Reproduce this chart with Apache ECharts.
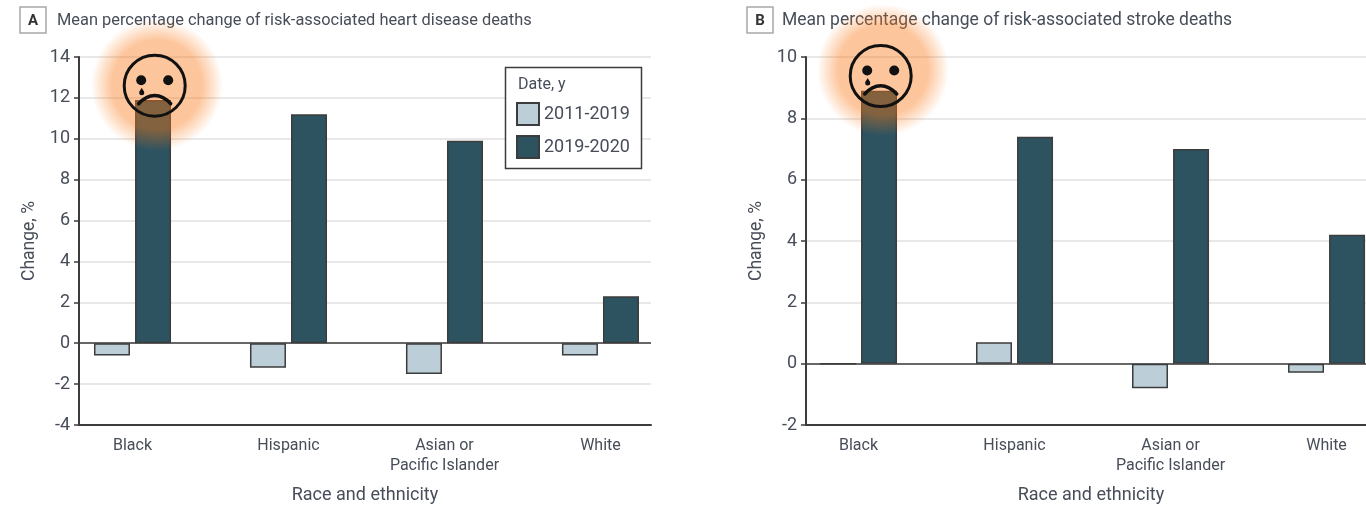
<!DOCTYPE html>
<html>
<head>
<meta charset="utf-8">
<style>
  html, body { margin: 0; padding: 0; background: #fff; }
  #chart { width: 1366px; height: 506px; }
</style>
</head>
<body>
<div id="chart"></div>
<script src="https://cdn.jsdelivr.net/npm/echarts@6/dist/echarts.min.js"></script>
<script>
const categories = ['Black', 'Hispanic', 'Asian or\nPacific Islander', 'White'];
const seriesNames = ['2011-2019', '2019-2020'];
const heartEarly = [-0.6, -1.2, -1.5, -0.6];
const heartLate = [11.9, 11.2, 9.9, 2.3];
const strokeEarly = [0, 0.7, -0.8, -0.3];
const strokeLate = [8.9, 7.4, 7.0, 4.2];
const titleA = 'Mean percentage change of risk-associated heart disease deaths';
const titleB = 'Mean percentage change of risk-associated stroke deaths';

const FONT = 'Roboto, sans-serif';
const TEXT = '#474d59';
const LINE = '#3c3c3c';
const LIGHT = '#bccfd8';
const DARK = '#2d5361';
const catIndex = categories.map((c, i) => i);

const chart = echarts.init(document.getElementById('chart'));

function xAxisFor(gridIndex, min, max) {
  return {
    type: 'value', gridIndex, min, max,
    name: 'Race and ethnicity', nameLocation: 'middle', nameGap: 61,
    nameTextStyle: { color: TEXT, fontFamily: FONT, fontSize: 18 },
    axisLine: { onZero: false, lineStyle: { color: LINE, width: 2 } },
    axisTick: { show: false },
    splitLine: { show: false },
    axisLabel: {
      customValues: catIndex,
      formatter: v => categories[v],
      color: TEXT, fontFamily: FONT, fontSize: 16, lineHeight: 20, margin: 11
    }
  };
}

function yAxisFor(gridIndex, min, max) {
  return {
    type: 'value', gridIndex, min, max, interval: 2,
    name: 'Change, %', nameLocation: 'middle', nameGap: 40, nameRotate: 90,
    nameTextStyle: { color: TEXT, fontFamily: FONT, fontSize: 17.5 },
    axisLine: { show: true, onZero: false, lineStyle: { color: LINE, width: 2 } },
    axisTick: { show: true, length: 5, lineStyle: { color: LINE, width: 1.5 } },
    splitLine: { show: true, lineStyle: { color: '#e8e8e8', width: 2 } },
    axisLabel: { color: TEXT, fontFamily: FONT, fontSize: 18, margin: 9 }
  };
}

function barSeries(name, values, color, axisIndex, zeroLine) {
  const s = {
    type: 'bar', name, xAxisIndex: axisIndex, yAxisIndex: axisIndex,
    data: values.map((v, i) => [i, v]),
    barWidth: 36, barGap: '14%',
    itemStyle: { color, borderColor: LINE, borderWidth: 1.5 },
    animation: false
  };
  if (zeroLine) {
    s.markLine = {
      silent: true, symbol: 'none', label: { show: false }, animation: false,
      lineStyle: { color: LINE, width: 1.5, type: 'solid' },
      data: [{ yAxis: 0 }]
    };
  }
  return s;
}

// orange glow and crying face drawn over the first bar of each panel
function sadFace(cx, cy, gx, gy) {
  const ink = { stroke: '#111', lineWidth: 3, fill: 'none' };
  return [
    {
      type: 'circle', z: 100, silent: true,
      shape: { cx: gx, cy: gy, r: 66 },
      style: {
        fill: {
          type: 'radial', x: 0.5, y: 0.5, r: 0.5,
          colorStops: [
            { offset: 0, color: 'rgba(250,118,18,0.42)' },
            { offset: 0.68, color: 'rgba(250,118,18,0.42)' },
            { offset: 0.88, color: 'rgba(250,118,18,0.16)' },
            { offset: 1, color: 'rgba(250,118,18,0)' }
          ]
        }
      }
    },
    { type: 'circle', z: 101, silent: true, shape: { cx, cy, r: 30.5 }, style: ink },
    { type: 'circle', z: 101, silent: true, shape: { cx: cx - 13.5, cy: cy - 5.5, r: 5 }, style: { fill: '#111' } },
    { type: 'circle', z: 101, silent: true, shape: { cx: cx + 13.5, cy: cy - 5.5, r: 5 }, style: { fill: '#111' } },
    { type: 'circle', z: 101, silent: true, shape: { cx: cx - 13, cy: cy + 7, r: 2.5 }, style: { fill: '#111' } },
    { type: 'polygon', z: 101, silent: true, shape: { points: [[cx - 15.3, cy + 6], [cx - 10.7, cy + 6], [cx - 13, cy + 2]] }, style: { fill: '#111' } },
    {
      type: 'bezierCurve', z: 101, silent: true,
      shape: { x1: cx - 16, y1: cy + 18, cpx1: cx - 6, cpy1: cy + 7, cpx2: cx + 6, cpy2: cy + 7, x2: cx + 16, y2: cy + 18 },
      style: Object.assign({}, ink, { lineCap: 'round', lineWidth: 3.5 })
    }
  ];
}

function panelHead(boxX, textX, letter, text, size) {
  return [
    { type: 'rect', silent: true, shape: { x: boxX, y: 7, width: 26, height: 26 }, style: { fill: '#fff', stroke: '#a8a8a8', lineWidth: 1.5 } },
    { type: 'text', silent: true, x: boxX + 13, y: 21, style: { text: letter, fill: '#333', font: 'bold 15px Roboto', align: 'center', verticalAlign: 'middle' } },
    { type: 'text', silent: true, x: textX, y: 21, style: { text, fill: TEXT, font: size + 'px Roboto', align: 'left', verticalAlign: 'middle' } }
  ];
}

chart.setOption({
  animation: false,
  grid: [
    { left: 79, top: 57, width: 572, height: 368, outerBoundsMode: 'none' },
    { left: 806, top: 57, width: 570, height: 368, outerBoundsMode: 'none' }
  ],
  xAxis: [xAxisFor(0, -0.343, 3.324), xAxisFor(1, -0.3365, 3.317)],
  yAxis: [yAxisFor(0, -4, 14), yAxisFor(1, -2, 10)],
  legend: {
    left: 511, top: 97, orient: 'vertical', padding: 5, itemGap: 9,
    itemWidth: 22, itemHeight: 22, selectedMode: false, icon: 'rect',
    data: seriesNames,
    itemStyle: { borderWidth: 2, borderColor: LINE },
    textStyle: { color: TEXT, fontFamily: FONT, fontSize: 18, padding: [0, 0, 0, 0] },
    z: 20
  },
  series: [
    barSeries(seriesNames[0], heartEarly, LIGHT, 0, false),
    barSeries(seriesNames[1], heartLate, DARK, 0, true),
    barSeries(seriesNames[0], strokeEarly, LIGHT, 1, false),
    barSeries(seriesNames[1], strokeLate, DARK, 1, true)
  ],
  graphic: [
    ...panelHead(20, 57, 'A', titleA, 16.4),
    ...panelHead(747, 782, 'B', titleB, 17.5),
    { type: 'rect', z: 3, silent: true, shape: { x: 505.5, y: 67.5, width: 136, height: 101 }, style: { fill: '#fff', stroke: LINE, lineWidth: 1.5 } },
    { type: 'text', z: 4, silent: true, x: 518, y: 85, style: { text: 'Date, y', fill: TEXT, font: '16px Roboto', verticalAlign: 'middle' } },
    ...sadFace(154.7, 85.7, 157, 85),
    ...sadFace(880.7, 76, 883, 70)
  ]
});
</script>
</body>
</html>
